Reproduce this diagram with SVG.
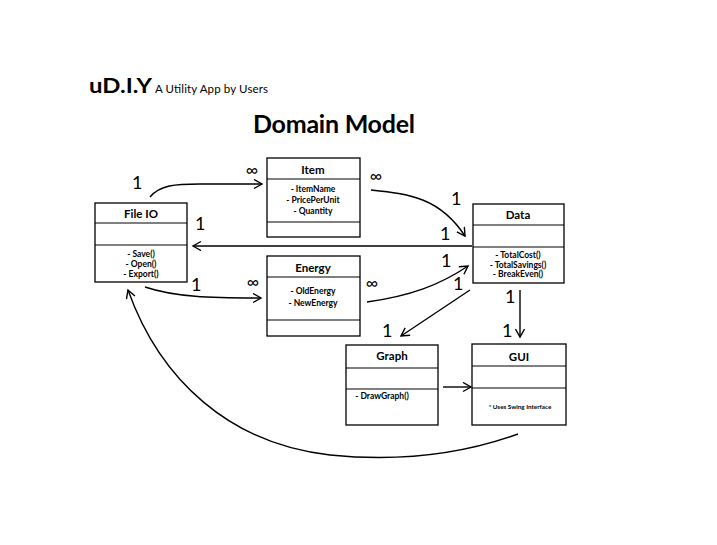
<svg xmlns="http://www.w3.org/2000/svg" width="717" height="545" viewBox="0 0 717 545">
<style>
text{font-family:Lato,"Open Sans","Liberation Sans",sans-serif;fill:#000}
.box{fill:#fff;stroke:#000;stroke-width:1.3}
.sep{stroke:#000;stroke-width:1.2}
.hd{font-size:11.5px;font-weight:bold;text-anchor:middle}
.at{font-size:8.5px;font-weight:bold;text-anchor:middle}
.sm{font-size:6.3px;font-weight:bold;text-anchor:middle}
.m{font-size:18px;font-weight:normal}
.inf{font-size:17px;text-anchor:middle}
.c{fill:none;stroke:#000;stroke-width:1.4}
</style>
<defs>
<marker id="ah" markerWidth="12" markerHeight="12" refX="9" refY="5" orient="auto" markerUnits="userSpaceOnUse">
<path d="M1,0.5 L9,5 L1,9.5" fill="none" stroke="#000" stroke-width="1.4"/>
</marker>
</defs>
<rect width="717" height="545" fill="#fff"/>
<text x="89" y="93" font-size="20" font-weight="bold" textLength="63" lengthAdjust="spacingAndGlyphs">uD.I.Y</text>
<text x="155" y="93" font-size="11.5" textLength="113">A Utility App by Users</text>
<text x="253" y="133" font-size="25" font-weight="bold" textLength="162">Domain Model</text>

<g id="fileio">
<rect class="box" x="95" y="203" width="92" height="79"/>
<line class="sep" x1="95" y1="223" x2="187" y2="223"/>
<line class="sep" x1="95" y1="245" x2="187" y2="245"/>
<text class="hd" x="141" y="218">File IO</text>
<text class="at" x="141" y="257">- Save()</text>
<text class="at" x="141" y="267">- Open()</text>
<text class="at" x="141" y="277">- Export()</text>
</g>
<g id="item">
<rect class="box" x="267" y="158" width="93" height="79"/>
<line class="sep" x1="267" y1="179" x2="360" y2="179"/>
<line class="sep" x1="267" y1="222" x2="360" y2="222"/>
<text class="hd" x="313" y="174">Item</text>
<text class="at" x="313" y="192">- ItemName</text>
<text class="at" x="313" y="203">- PricePerUnit</text>
<text class="at" x="313" y="214">- Quantity</text>
</g>
<g id="energy">
<rect class="box" x="267" y="256" width="93" height="80"/>
<line class="sep" x1="267" y1="277" x2="360" y2="277"/>
<line class="sep" x1="267" y1="320" x2="360" y2="320"/>
<text class="hd" x="313" y="272">Energy</text>
<text class="at" x="313" y="294">- OldEnergy</text>
<text class="at" x="313" y="306">- NewEnergy</text>
</g>
<g id="data">
<rect class="box" x="473" y="204" width="91" height="79"/>
<line class="sep" x1="473" y1="225" x2="564" y2="225"/>
<line class="sep" x1="473" y1="247" x2="564" y2="247"/>
<text class="hd" x="518" y="219">Data</text>
<text class="at" x="518" y="258" font-size="8">- TotalCost()</text>
<text class="at" x="518" y="268" font-size="8">- TotalSavings()</text>
<text class="at" x="518" y="277" font-size="8">- BreakEven()</text>
</g>
<g id="graph">
<rect class="box" x="346" y="345" width="92" height="80"/>
<line class="sep" x1="346" y1="368" x2="438" y2="368"/>
<line class="sep" x1="346" y1="389" x2="438" y2="389"/>
<text class="hd" x="392" y="360">Graph</text>
<text class="at" x="382" y="399" font-size="7.5">- DrawGraph()</text>
</g>
<g id="gui">
<rect class="box" x="472" y="344" width="94" height="81"/>
<line class="sep" x1="472" y1="366" x2="566" y2="366"/>
<line class="sep" x1="472" y1="388" x2="566" y2="388"/>
<text class="hd" x="519" y="361" font-size="12.5">GUI</text>
<text class="sm" x="520" y="409">* Uses Swing Interface</text>
</g>

<g id="connectors">
<path class="c" d="M150,197 C160,185 175,184 200,184 L262,184" marker-end="url(#ah)"/>
<path class="c" d="M371,190 C410,194 440,198 465,236" marker-end="url(#ah)"/>
<path class="c" d="M472,246 L193,246" marker-end="url(#ah)"/>
<path class="c" d="M145,287 C175,297 210,298 261,298" marker-end="url(#ah)"/>
<path class="c" d="M367,302 C410,296 440,285 468,266" marker-end="url(#ah)"/>
<path class="c" d="M470,290 L401,336" marker-end="url(#ah)"/>
<path class="c" d="M520,290 L520,337" marker-end="url(#ah)"/>
<path class="c" d="M443,387 L471,387" marker-end="url(#ah)"/>
<path class="c" d="M518,434 C460,455 400,462 330,455 C230,444 160,380 128,290" marker-end="url(#ah)"/>

<text class="m" x="132" y="189">1</text>
<text class="inf" x="252" y="176">∞</text>
<text class="inf" x="376" y="182">∞</text>
<text class="m" x="451" y="205">1</text>
<text class="m" x="440" y="240">1</text>
<text class="m" x="195" y="230">1</text>
<text class="m" x="191" y="291">1</text>
<text class="inf" x="253" y="288">∞</text>
<text class="inf" x="372" y="289">∞</text>
<text class="m" x="441" y="267">1</text>
<text class="m" x="453" y="290">1</text>
<text class="m" x="382" y="337">1</text>
<text class="m" x="505" y="303">1</text>
<text class="m" x="502" y="337">1</text>
</g>
</svg>
